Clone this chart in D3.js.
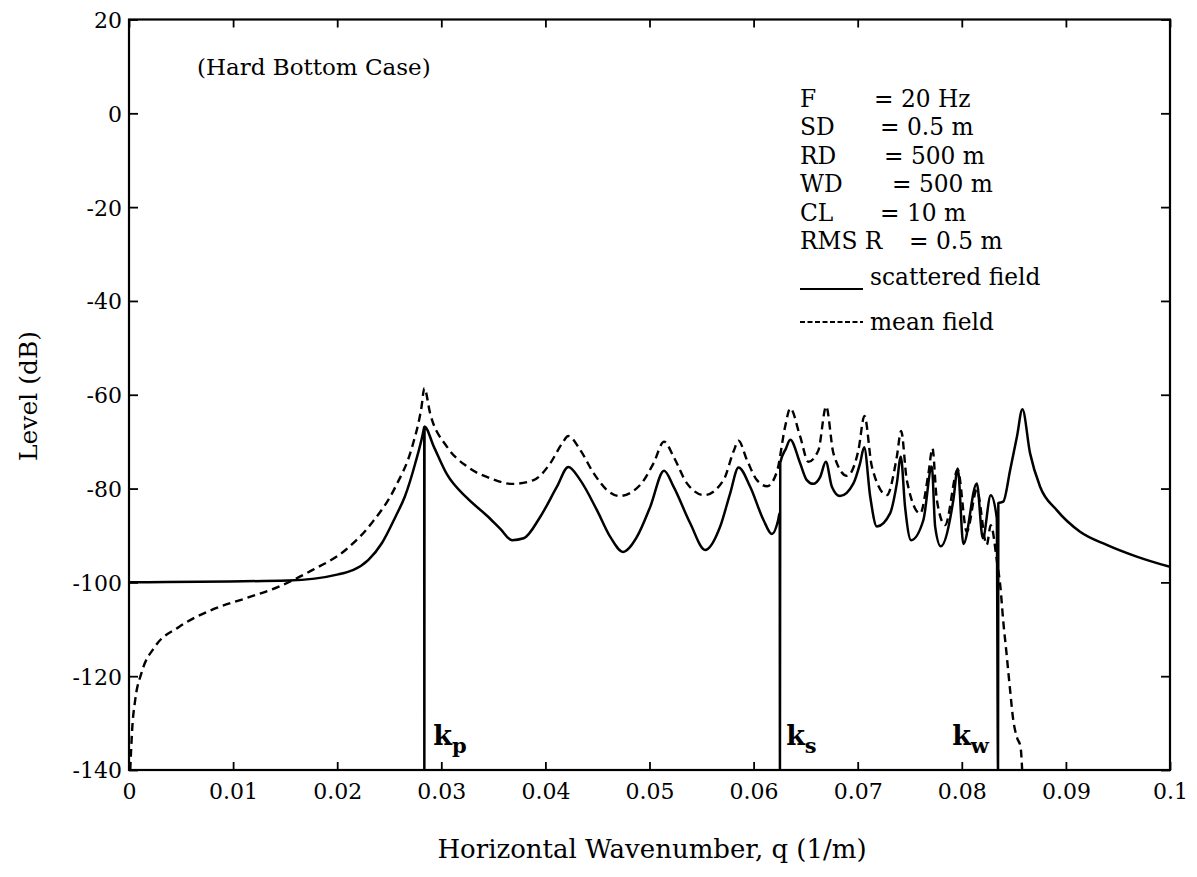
<!DOCTYPE html>
<html>
<head>
<meta charset="utf-8">
<script src="https://cdn.jsdelivr.net/npm/d3@7"></script>
<style>
  html, body { margin: 0; padding: 0; background: #fff; }
  svg { display: block; }
  text { fill: #000; }
</style>
</head>
<body>
<svg id="chart" width="1197" height="877"></svg>
<script>
// Wavenumber spectra, hard bottom case: [q (1/m), level (dB)]
const scatteredField = [
  [0, -100], [0.0153, -99.6], [0.0201, -98.3], [0.023, -95.2], [0.0243, -91.6],
  [0.0256, -86], [0.0265, -81.7], [0.0275, -74.6], [0.0283, -67.5], [0.02836, -66.8],
  [0.02837, -140], [0.02839, -66.8],
  [0.02927, -71], [0.03055, -77], [0.03247, -82], [0.03439, -85.8], [0.03567, -88.6],
  [0.0368, -91], [0.03791, -90.6], [0.03951, -86], [0.04111, -79.6], [0.0422, -75.4],
  [0.04335, -78.2], [0.04495, -84.6], [0.04623, -90.3], [0.04745, -93.5], [0.04879, -90.3],
  [0.05007, -83.9], [0.0514, -76.2], [0.05231, -79.6], [0.05391, -87.4], [0.05535, -93.1],
  [0.05679, -88.1], [0.05775, -81], [0.05855, -75.5], [0.05967, -79.6], [0.06095, -86.7],
  [0.06176, -89.7], [0.06236, -86.7], [0.06251, -85.2],
  [0.06253, -140], [0.06256, -74.5],
  [0.0631, -71.5], [0.06352, -69.6], [0.06447, -74.6], [0.06511, -78.2], [0.06572, -79],
  [0.0664, -77.5], [0.06694, -74.3], [0.06752, -79.6], [0.0683, -81.6], [0.06959, -78.9],
  [0.07023, -74.6], [0.07062, -71.2], [0.0712, -81.7], [0.07184, -88.1], [0.07311, -85.3],
  [0.07376, -78.9], [0.07414, -73.2], [0.07455, -83.9], [0.07513, -91], [0.07631, -86.7],
  [0.07712, -75.3], [0.07744, -88.1], [0.07798, -92.3], [0.07919, -82.4], [0.07961, -75.7],
  [0.08015, -91.8], [0.08144, -78.9], [0.08202, -90.6], [0.08278, -81.4], [0.08336, -86.3],
  [0.08348, -140], [0.08351, -83.1],
  [0.08398, -82.8], [0.08465, -76], [0.0853, -68.9], [0.08582, -63.1], [0.08656, -72.5],
  [0.08752, -79.6], [0.08912, -84.6], [0.09136, -89.2], [0.09392, -92], [0.0968, -94.5],
  [0.1, -96.7]
];

const meanField = [
  [0.00012, -140], [0.0003, -131.5], [0.0006, -125], [0.0012, -119.3], [0.0025, -113.7],
  [0.0048, -109.5], [0.0079, -105.9], [0.0112, -103.4], [0.0144, -100.9], [0.0176, -97.4],
  [0.0208, -93.1], [0.0233, -87.4], [0.0256, -79.6], [0.0272, -71.1], [0.0281, -62.6],
  [0.02837, -58.6], [0.02893, -64], [0.03055, -71.1], [0.03247, -75.3], [0.0347, -77.8],
  [0.0368, -79], [0.03887, -78.2], [0.04047, -74.6], [0.0416, -70.4], [0.0422, -68.8],
  [0.04335, -71.8], [0.04463, -76.7], [0.04591, -80.3], [0.0471, -81.6], [0.04911, -79.2],
  [0.05039, -74.6], [0.0514, -70], [0.05231, -73.2], [0.0536, -78.9], [0.05526, -81.4],
  [0.05711, -78.2], [0.05807, -72.1], [0.05855, -69.8], [0.05936, -73.9], [0.06032, -78.2],
  [0.0613, -79.5], [0.06224, -76.4], [0.06303, -66.8], [0.06352, -62.9], [0.06447, -68.9],
  [0.06527, -74.3], [0.06623, -71.8], [0.06697, -62.5], [0.06767, -72.5], [0.06897, -77.3],
  [0.07007, -71.8], [0.07065, -64.5], [0.07136, -75.3], [0.0728, -81.4], [0.07376, -73.2],
  [0.07417, -67.7], [0.07472, -78.2], [0.076, -85.3], [0.0768, -76.7], [0.07718, -71.4],
  [0.0776, -82.4], [0.0784, -87.8], [0.07961, -76], [0.08048, -89.2], [0.08144, -80.3],
  [0.0824, -92], [0.08278, -87.8], [0.0834, -95.9], [0.08371, -101], [0.08397, -108],
  [0.08429, -115], [0.08461, -122.3], [0.08494, -129.3], [0.08532, -133.2], [0.08564, -135],
  [0.0858, -140]
];

// Branch-point markers along the wavenumber axis
const branchLabels = [
  { k: "k", sub: "p", q: 0.02837 },
  { k: "k", sub: "s", q: 0.06255 },
  { k: "k", sub: "w", q: 0.08349 }
];

const xTicks = [0, 0.01, 0.02, 0.03, 0.04, 0.05, 0.06, 0.07, 0.08, 0.09, 0.1];
const yTicks = [20, 0, -20, -40, -60, -80, -100, -120, -140];

const caseTitle = "(Hard Bottom Case)";
const params = [
  ["F", "= 20 Hz"],
  ["SD", "= 0.5 m"],
  ["RD", "= 500 m"],
  ["WD", "= 500 m"],
  ["CL", "= 10 m"],
  ["RMS R", "= 0.5 m"]
];
const seriesNames = ["scattered field", "mean field"];
const xTitle = "Horizontal Wavenumber, q (1/m)";
const yTitle = "Level (dB)";

// ---- layout ----
const svg = d3.select("#chart");
const plotLeft = 129, plotRight = 1170, plotTop = 19.5, plotBottom = 770;
const serif = "'DejaVu Serif', serif";

const x = d3.scaleLinear().domain([0, 0.1]).range([plotLeft, plotRight]);
const y = d3.scaleLinear().domain([-140, 20]).range([plotBottom, plotTop]);

svg.append("defs").append("clipPath").attr("id", "plot-clip")
  .append("rect").attr("x", plotLeft).attr("y", plotTop)
  .attr("width", plotRight - plotLeft).attr("height", plotBottom - plotTop);

const fmt = d => String(+d.toFixed(2));

// axes with inward ticks on all four sides
const axB = svg.append("g").attr("transform", `translate(0,${plotBottom})`)
  .call(d3.axisBottom(x).tickValues(xTicks).tickSize(-8).tickFormat(fmt));
const axT = svg.append("g").attr("transform", `translate(0,${plotTop})`)
  .call(d3.axisTop(x).tickValues(xTicks).tickSize(-8).tickFormat(""));
const axL = svg.append("g").attr("transform", `translate(${plotLeft},0)`)
  .call(d3.axisLeft(y).tickValues(yTicks).tickSize(-9).tickFormat(d => String(d)));
const axR = svg.append("g").attr("transform", `translate(${plotRight},0)`)
  .call(d3.axisRight(y).tickValues(yTicks).tickSize(-9).tickFormat(""));

[axB, axT, axL, axR].forEach(g => {
  g.select(".domain").remove();
  g.selectAll(".tick line").attr("stroke", "#000").attr("stroke-width", 1.8);
  g.selectAll(".tick text").attr("font-family", serif).attr("font-size", 22).attr("fill", "#000");
});
axB.selectAll(".tick text").attr("y", 13).attr("dy", "0.71em");
axL.selectAll(".tick text").attr("x", -7).attr("dy", "0.36em");

svg.append("rect").attr("x", plotLeft).attr("y", plotTop)
  .attr("width", plotRight - plotLeft).attr("height", plotBottom - plotTop)
  .attr("fill", "none").attr("stroke", "#000").attr("stroke-width", 2.2);

// curves
const line = d3.line().x(d => x(d[0])).y(d => y(d[1])).curve(d3.curveMonotoneX);
const plot = svg.append("g").attr("clip-path", "url(#plot-clip)");

plot.append("path").datum(meanField).attr("d", line)
  .attr("fill", "none").attr("stroke", "#000").attr("stroke-width", 2.4)
  .attr("stroke-dasharray", "8,5");

plot.append("path").datum(scatteredField).attr("d", line)
  .attr("fill", "none").attr("stroke", "#000").attr("stroke-width", 2.5)
  .attr("stroke-linejoin", "round");

// branch-point labels
const labelDx = [9, 6, -46];
branchLabels.forEach((b, i) => {
  const t = svg.append("text")
    .attr("x", x(b.q) + labelDx[i]).attr("y", 745)
    .attr("font-family", serif).attr("font-weight", "bold").attr("font-size", 27);
  t.append("tspan").text(b.k);
  t.append("tspan").attr("dy", 8).attr("font-size", 21).text(b.sub);
});

// title and run parameters
svg.append("text").attr("x", 197).attr("y", 75)
  .attr("font-family", serif).attr("font-size", 23).text(caseTitle);

const eqX = [874, 880, 884, 892, 880, 909];
params.forEach((p, i) => {
  const yy = 107 + i * 28.4;
  svg.append("text").attr("x", 800).attr("y", yy)
    .attr("font-family", serif).attr("font-size", 23.3).text(p[0]);
  svg.append("text").attr("x", eqX[i]).attr("y", yy)
    .attr("font-family", serif).attr("font-size", 23.3).text(p[1]);
});

// legend
svg.append("line").attr("x1", 800).attr("x2", 863).attr("y1", 289).attr("y2", 289)
  .attr("stroke", "#000").attr("stroke-width", 2.2);
svg.append("text").attr("x", 870).attr("y", 285)
  .attr("font-family", serif).attr("font-size", 23.3).text(seriesNames[0]);
svg.append("line").attr("x1", 800).attr("x2", 863).attr("y1", 322).attr("y2", 322)
  .attr("stroke", "#000").attr("stroke-width", 2.2).attr("stroke-dasharray", "5,2.5");
svg.append("text").attr("x", 870).attr("y", 330)
  .attr("font-family", serif).attr("font-size", 23.3).text(seriesNames[1]);

// axis titles
svg.append("text").attr("x", 652).attr("y", 858)
  .attr("text-anchor", "middle").attr("font-family", serif).attr("font-size", 26)
  .text(xTitle);
svg.append("text").attr("transform", "translate(37,396) rotate(-90)")
  .attr("text-anchor", "middle").attr("font-family", serif).attr("font-size", 25)
  .text(yTitle);
</script>
</body>
</html>
